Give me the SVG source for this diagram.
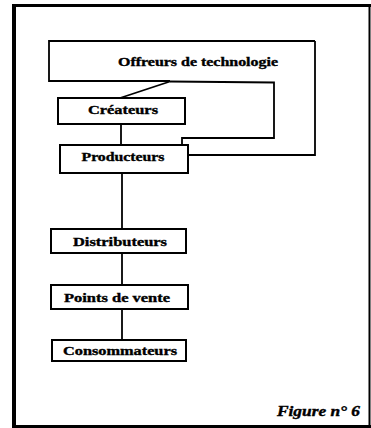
<svg xmlns="http://www.w3.org/2000/svg" width="371" height="428" viewBox="0 0 371 428">
<style>
.box{fill:#fff;stroke:#000;stroke-width:2}
.ln{fill:none;stroke:#000;stroke-width:1.8}
.t{font-family:"Liberation Serif","DejaVu Serif",serif;font-weight:bold;font-size:12px;fill:#000;stroke:#000;stroke-width:0.35;text-anchor:middle}
.fig{font-family:"Liberation Serif","DejaVu Serif",serif;font-weight:bold;font-style:italic;font-size:14px;fill:#000;stroke:#000;stroke-width:0.4}
</style>
<rect width="371" height="428" fill="#fff"/>
<g id="frame">
<line x1="14" y1="4" x2="14" y2="428" stroke="#000" stroke-width="4"/>
<line x1="12" y1="5.5" x2="371" y2="5.5" stroke="#000" stroke-width="3"/>
<line x1="369.5" y1="4" x2="369.5" y2="428" stroke="#000" stroke-width="2"/>
<line x1="12" y1="426.5" x2="371" y2="426.5" stroke="#000" stroke-width="3"/>
</g>
<g id="connectors">
<path class="ln" d="M170,81.5 L120,98"/>
<path class="ln" d="M170,81.5 L274,82.5 L274,138 L182,138 L182,145"/>
<path class="ln" d="M315,41 L315,155 L188,155"/>
<line class="ln" x1="121" y1="124" x2="121" y2="145"/>
<line class="ln" x1="122" y1="173" x2="122" y2="229"/>
<line class="ln" x1="122" y1="253" x2="122" y2="285"/>
<line class="ln" x1="122" y1="309" x2="122" y2="340"/>
</g>
<g id="offreurs">
<path class="ln" d="M170,81 L49,81 L49,41 L315,41"/>
<text class="t" x="198" y="66" textLength="160" lengthAdjust="spacingAndGlyphs">Offreurs de technologie</text>
</g>
<g id="createurs">
<rect class="box" x="58" y="98" width="127" height="26"/>
<text class="t" x="123" y="114" textLength="70" lengthAdjust="spacingAndGlyphs">Créateurs</text>
</g>
<g id="producteurs">
<rect class="box" x="60" y="145" width="128" height="28"/>
<text class="t" x="123" y="161" textLength="83" lengthAdjust="spacingAndGlyphs">Producteurs</text>
</g>
<g id="distributeurs">
<rect class="box" x="51" y="229" width="135" height="24"/>
<text class="t" x="120" y="246" textLength="94" lengthAdjust="spacingAndGlyphs">Distributeurs</text>
</g>
<g id="points">
<rect class="box" x="51" y="285" width="137" height="24"/>
<text class="t" x="117" y="302" textLength="106" lengthAdjust="spacingAndGlyphs">Points de vente</text>
</g>
<g id="consommateurs">
<rect class="box" x="52" y="340" width="134" height="21"/>
<text class="t" x="120" y="355" textLength="114" lengthAdjust="spacingAndGlyphs">Consommateurs</text>
</g>
<text class="fig" x="277" y="416" textLength="83" lengthAdjust="spacingAndGlyphs">Figure n° 6</text>
</svg>
